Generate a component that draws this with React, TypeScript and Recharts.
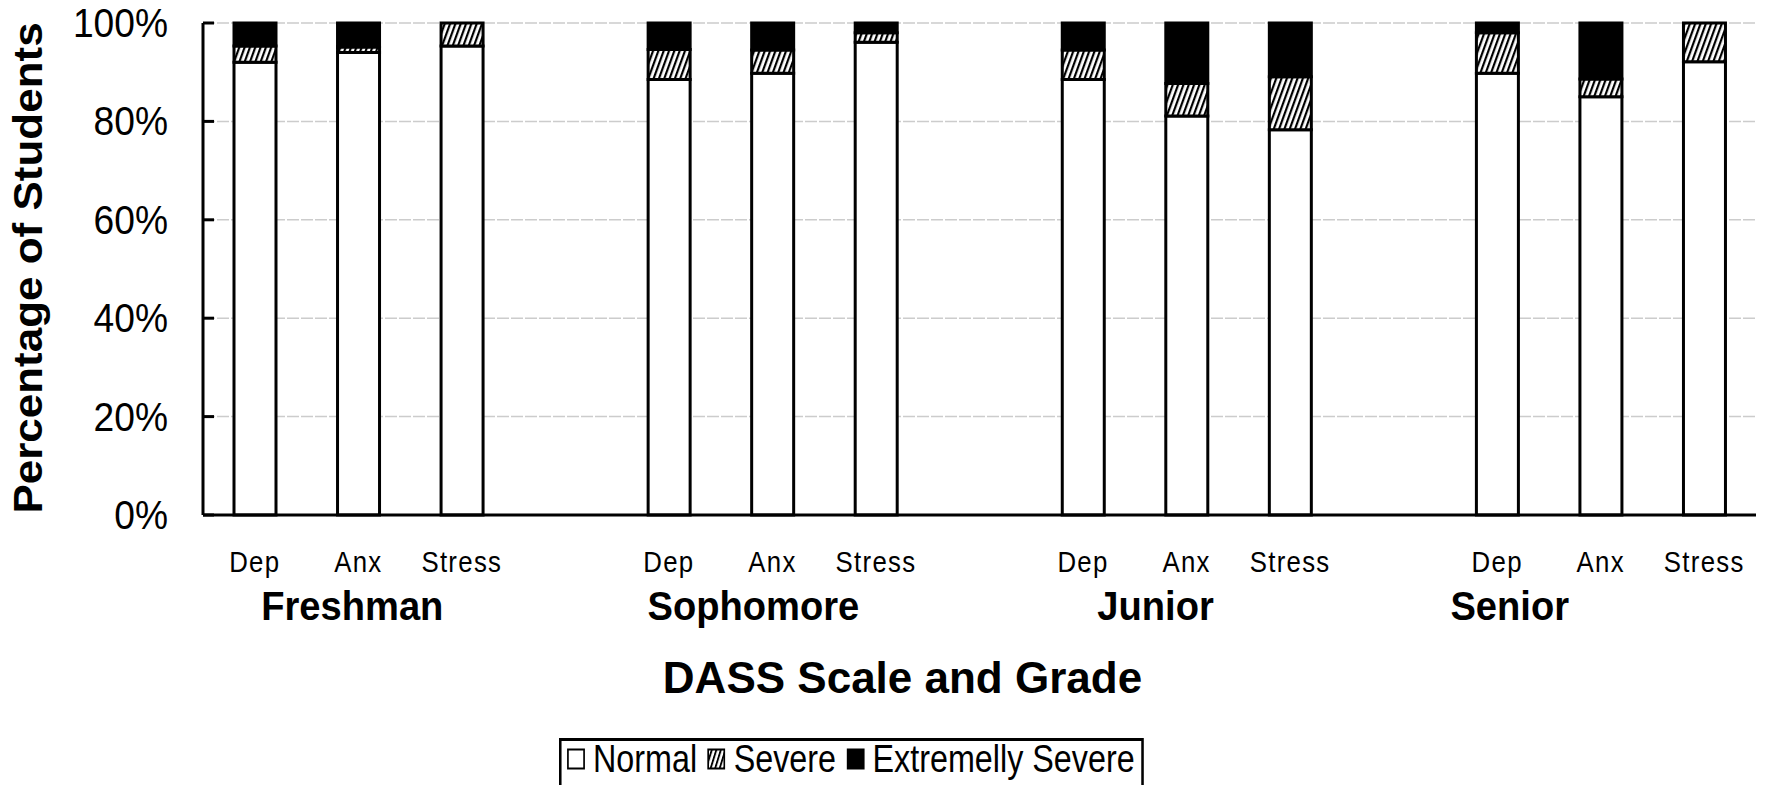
import { Bar, BarChart, CartesianGrid, Legend, XAxis, YAxis } from "recharts"

const grades = ["Freshman", "Sophomore", "Junior", "Senior"]
const scales = ["Dep", "Anx", "Stress"]
const seriesNames = ["Normal", "Severe", "Extremelly Severe"]

// percentages, in order Freshman Dep/Anx/Stress, Sophomore ..., Senior ...
const normalPct = [92, 94, 95.3, 88.5, 89.8, 96.1, 88.5, 81.1, 78.3, 89.8, 85, 92.1]
const severePct = [3.3, 1.1, 4.7, 6.1, 4.7, 1.9, 6, 6.6, 10.8, 8.2, 3.6, 7.9]
const extremePct = [4.7, 4.9, 0, 5.4, 5.5, 2, 5.5, 12.3, 10.9, 2, 11.4, 0]

const yTicks = [0, 20, 40, 60, 80, 100]

// grade labels sit a little off the group centre in the original
const groupShift = [-6, -19, -31, -91]

const font = "'Liberation Sans', Arial, sans-serif"
const squeeze = 0.93

type Row = {
  key: string
  label: string
  grade: number
  normal?: number
  severe?: number
  extreme?: number
}

const rows: Row[] = []
grades.forEach((g, gi) => {
  scales.forEach((s, si) => {
    const i = gi * scales.length + si
    rows.push({
      key: `${g}-${s}`,
      label: s,
      grade: gi,
      normal: normalPct[i],
      severe: severePct[i],
      extreme: extremePct[i],
    })
  })
  if (gi < grades.length - 1) rows.push({ key: `gap-${gi}`, label: "", grade: -1 })
})

const fills = ["#ffffff", "url(#hatch)", "#000000"]

const YTick = (props: any) => {
  const { x, y, payload } = props
  return (
    <g>
      <line x1={x} x2={x + 11} y1={y} y2={y} stroke="#000" strokeWidth={3} />
      <text
        transform={`translate(${x - 35},${y}) scale(${squeeze},1)`}
        textAnchor="end"
        dy={14}
        fontSize={40}
        fontFamily={font}
        fill="#000"
      >
        {payload.value}%
      </text>
    </g>
  )
}

const XTick = (props: any) => {
  const { x, y, payload } = props
  const row = rows[payload.index]
  if (!row || !row.label) return <g />
  return (
    <g>
      <text
        transform={`translate(${x},${y + 57}) scale(0.86,1)`}
        textAnchor="middle"
        fontSize={30}
        letterSpacing={1.5}
        fontFamily={font}
        fill="#000"
      >
        {row.label}
      </text>
      {row.label === scales[1] && (
        <text
          transform={`translate(${x + groupShift[row.grade]},${y + 105}) scale(${squeeze},1)`}
          textAnchor="middle"
          fontSize={41}
          fontWeight="bold"
          fontFamily={font}
          fill="#000"
        >
          {grades[row.grade]}
        </text>
      )}
    </g>
  )
}

const YTitle = () => (
  <text
    transform={`translate(42,268) scale(${squeeze},1) rotate(-90)`}
    textAnchor="middle"
    fontSize={44}
    fontWeight="bold"
    fontFamily={font}
    fill="#000"
  >
    Percentage of Students
  </text>
)

const XTitle = (props: any) => {
  const vb = props.viewBox
  return (
    <text
      x={vb.x + vb.width / 2 - 77}
      y={vb.y + 178}
      textAnchor="middle"
      fontSize={44}
      fontWeight="bold"
      fontFamily={font}
      fill="#000"
    >
      DASS Scale and Grade
    </text>
  )
}

const LegendBox = () => (
  <div
    style={{
      border: "3px solid #000",
      background: "#fff",
      padding: "0 8px 20px 6px",
      display: "flex",
      alignItems: "center",
      fontFamily: font,
      fontSize: 38,
      lineHeight: "36px",
      color: "#000",
      whiteSpace: "nowrap",
      transform: "scaleX(0.85)",
      transformOrigin: "left top",
    }}
  >
    {seriesNames.map((name, i) => (
      <span
        key={name}
        style={{ display: "inline-flex", alignItems: "center", marginRight: i < 2 ? 12 : 0 }}
      >
        <svg width={22} height={22} style={{ marginRight: 9 }}>
          <rect x={1.5} y={1.5} width={19} height={19} fill={fills[i]} stroke="#000" strokeWidth={2} />
        </svg>
        {name}
      </span>
    ))}
  </div>
)

export default function App() {
  return (
    <div
      style={{
        position: "absolute",
        left: 0,
        top: 0,
        width: 1765,
        height: 785,
        overflow: "hidden",
        background: "#fff",
      }}
    >
      <BarChart
        width={1765}
        height={785}
        data={rows}
        margin={{ top: 23, right: 9, bottom: 0, left: 103 }}
      >
        <defs>
          <pattern
            id="hatch"
            width={5}
            height={5}
            patternUnits="userSpaceOnUse"
            patternTransform="rotate(20)"
          >
            <rect width={5} height={5} fill="#fff" />
            <rect width={2.2} height={5} fill="#000" />
          </pattern>
        </defs>
        <CartesianGrid vertical={false} stroke="#cccccc" strokeWidth={1.5} strokeDasharray="12 2" />
        <XAxis
          dataKey="key"
          height={270}
          interval={0}
          tickLine={false}
          tickSize={0}
          tickMargin={0}
          axisLine={{ stroke: "#000", strokeWidth: 3 }}
          tick={<XTick />}
          label={{ content: <XTitle /> }}
        />
        <YAxis
          type="number"
          domain={[0, 100]}
          ticks={yTicks}
          width={100}
          tickLine={false}
          tickSize={0}
          tickMargin={0}
          axisLine={{ stroke: "#000", strokeWidth: 3 }}
          tick={<YTick />}
          label={{ content: <YTitle /> }}
        />
        <Legend
          layout="horizontal"
          verticalAlign="middle"
          align="center"
          wrapperStyle={{ left: 559, top: 738, width: "auto" }}
          content={<LegendBox />}
        />
        <Bar dataKey="normal" name={seriesNames[0]} stackId="s" fill={fills[0]} stroke="#000" strokeWidth={3} barSize={42} isAnimationActive={false} />
        <Bar dataKey="severe" name={seriesNames[1]} stackId="s" fill={fills[1]} stroke="#000" strokeWidth={3} barSize={42} isAnimationActive={false} />
        <Bar dataKey="extreme" name={seriesNames[2]} stackId="s" fill={fills[2]} stroke="#000" strokeWidth={3} barSize={42} isAnimationActive={false} />
      </BarChart>
    </div>
  )
}
